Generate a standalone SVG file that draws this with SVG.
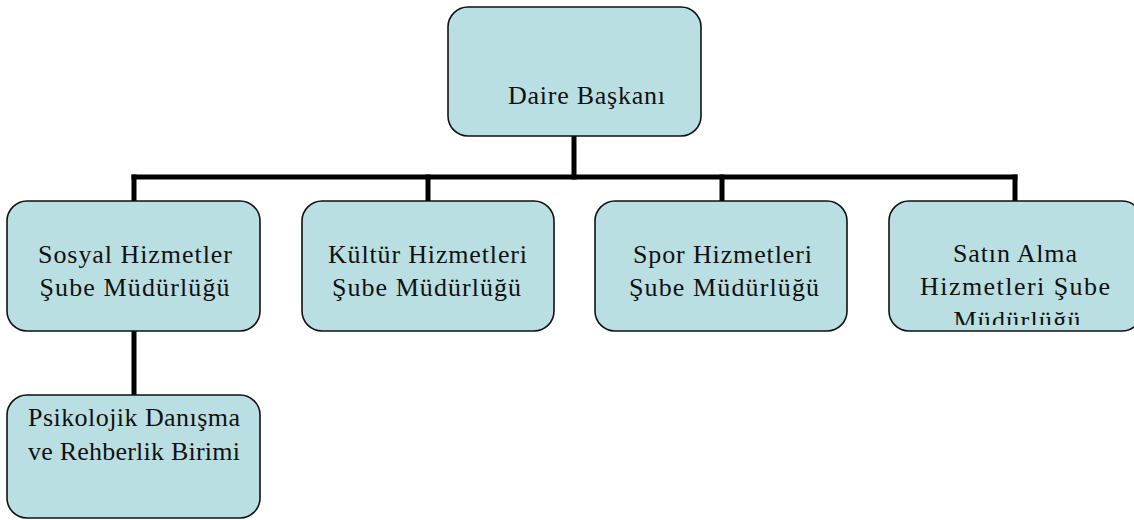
<svg xmlns="http://www.w3.org/2000/svg" width="1134" height="520" viewBox="0 0 1134 520">
  <defs>
    <style>
      .box { fill: #BADFE2; stroke: #111; stroke-width: 1.6; }
      .lbl { font-family: "Liberation Serif", "DejaVu Serif", serif; font-size: 26px; fill: #111; }
      .mid { text-anchor: middle; }
      .conn { stroke: #000; stroke-width: 5; fill: none; stroke-linecap: square; }
    </style>
    <clipPath id="clip4">
      <rect x="880" y="195" width="260" height="130"/>
    </clipPath>
  </defs>
  <rect width="1134" height="520" fill="#fff"/>

  <g id="connectors">
    <line class="conn" x1="574" y1="137" x2="574" y2="177"/>
    <line class="conn" x1="134" y1="177" x2="1015" y2="177"/>
    <line class="conn" x1="134" y1="177" x2="134" y2="200"/>
    <line class="conn" x1="428" y1="177" x2="428" y2="200"/>
    <line class="conn" x1="722" y1="177" x2="722" y2="200"/>
    <line class="conn" x1="1015" y1="177" x2="1015" y2="200"/>
    <line class="conn" x1="134" y1="332" x2="134" y2="394"/>
  </g>

  <g id="daire-baskani">
    <rect class="box" x="448" y="7" width="253" height="129" rx="20"/>
    <text class="lbl" x="508" y="104" textLength="157" lengthAdjust="spacing">Daire Başkanı</text>
  </g>

  <g id="sosyal-hizmetler">
    <rect class="box" x="7" y="201" width="253" height="130" rx="20"/>
    <text class="lbl mid" x="135" y="263" textLength="194" lengthAdjust="spacing">Sosyal Hizmetler</text>
    <text class="lbl mid" x="134.5" y="296" textLength="190" lengthAdjust="spacing">Şube Müdürlüğü</text>
  </g>

  <g id="kultur-hizmetleri">
    <rect class="box" x="302" y="201" width="252" height="130" rx="20"/>
    <text class="lbl mid" x="427.5" y="263" textLength="199" lengthAdjust="spacing">Kültür Hizmetleri</text>
    <text class="lbl mid" x="426.5" y="296" textLength="189" lengthAdjust="spacing">Şube Müdürlüğü</text>
  </g>

  <g id="spor-hizmetleri">
    <rect class="box" x="595" y="201" width="252" height="130" rx="20"/>
    <text class="lbl mid" x="722.5" y="263" textLength="179" lengthAdjust="spacing">Spor Hizmetleri</text>
    <text class="lbl mid" x="724" y="296" textLength="190" lengthAdjust="spacing">Şube Müdürlüğü</text>
  </g>

  <g id="satin-alma">
    <rect class="box" x="889" y="201" width="253" height="130" rx="20"/>
    <g clip-path="url(#clip4)">
      <text class="lbl mid" x="1015" y="262" textLength="124" lengthAdjust="spacing">Satın Alma</text>
      <text class="lbl mid" x="1015" y="295" textLength="190" lengthAdjust="spacing">Hizmetleri Şube</text>
      <text class="lbl mid" x="1017" y="329" textLength="127" lengthAdjust="spacing">Müdürlüğü</text>
    </g>
  </g>

  <g id="psikolojik-danisma">
    <rect class="box" x="7" y="395" width="253" height="123" rx="20"/>
    <text class="lbl mid" x="134" y="426" textLength="212" lengthAdjust="spacing">Psikolojik Danışma</text>
    <text class="lbl mid" x="134" y="460" textLength="212" lengthAdjust="spacing">ve Rehberlik Birimi</text>
  </g>
</svg>
